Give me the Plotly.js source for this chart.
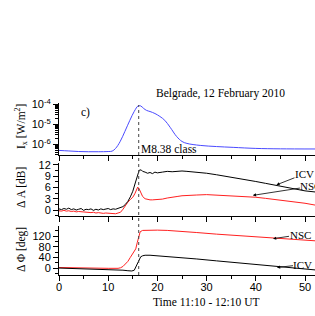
<!DOCTYPE html>
<html>
<head>
<meta charset="utf-8">
<script src="https://cdn.plot.ly/plotly-3.0.1.min.js"></script>
<style>html,body{margin:0;padding:0;background:#fff;}#chart{width:315px;height:316px;}</style>
</head>
<body>
<div id="chart"></div>
<script>
// ---- Data (time in minutes after 11:10 UT) ----
const tIx = [0,2,4,6,8,10,10.8,11.5,12.4,13.4,14.4,15.3,16.1,16.6,17.2,17.8,18.5,19.5,20.5,21.5,22.6,23.9,25,26,28.7,32,35.4,40,45,52.1];
const Ix  = [5.0e-7,4.7e-7,4.4e-7,4.3e-7,4.3e-7,4.4e-7,4.6e-7,6.3e-7,1.35e-6,4.5e-6,1.6e-5,4.5e-5,8.5e-5,8.4e-5,6.3e-5,5.0e-5,4.4e-5,3.5e-5,2.5e-5,1.6e-5,7.1e-6,2.5e-6,1.4e-6,1.12e-6,8.9e-7,7.8e-7,7.1e-7,6.3e-7,6.0e-7,5.9e-7];

const tAmpIcv = [0,0.5,1,1.5,2,2.5,3,3.5,4,4.5,5,5.5,6,6.5,7,7.5,8,8.5,9,9.5,10,10.5,11,11.5,12,12.5,13,13.5,14,14.5,15,15.5,16,16.3,16.7,17,17.5,18,18.5,19,19.5,20,21,22,23,24,25,26,28,30,32,34,36,38,40,42,44,46,48,50,52.1];
const ampIcv  = [0.3,0.1,0.4,0.2,0.5,0.1,0.3,0.0,0.2,0.4,-0.1,0.2,0.1,0.3,-0.1,0.2,0.0,0.3,0.1,0.2,0.4,0.1,0.3,0.2,0.4,0.6,0.9,1.5,2.3,3.5,5.0,7.2,9.6,10.6,10.7,10.3,10.1,9.8,10.0,9.7,10.1,9.9,10.1,10.3,10.2,10.4,10.4,10.3,10.1,9.8,9.4,9.0,8.6,8.2,7.6,7.1,6.6,6.0,5.5,5.1,4.8];

const tAmpNsc = [0,0.5,1,1.5,2,2.5,3,3.5,4,4.5,5,5.5,6,6.5,7,7.5,8,8.5,9,9.5,10,10.5,11,11.5,12,12.5,13,13.5,14,14.5,15,15.4,15.7,16,16.3,16.6,17,17.5,18,18.5,19,20,21,22,23,24,25,26,28,30,32,34,36,38,40,42,44,46,48,50,52.1];
const ampNsc  = [-0.2,-0.3,-0.1,-0.3,-0.2,-0.4,-0.3,-0.5,-0.4,-0.5,-0.6,-0.5,-0.6,-0.7,-0.6,-0.8,-0.7,-0.8,-0.9,-0.8,-0.9,-1.0,-0.9,-1.0,-0.8,-0.6,0.2,1.2,2.1,2.8,3.4,4.3,5.4,6.1,5.6,4.6,3.6,3.0,2.8,2.7,2.7,2.8,2.9,3.2,3.5,3.6,3.8,3.9,4.0,4.1,4.0,3.9,3.8,3.6,3.4,3.1,2.8,2.5,2.2,1.8,1.3];

const tPhIcv = [0,2,4,6,8,10,12,13,14,14.8,15.3,15.8,16.2,16.6,17,17.5,18.5,20,22,25,28,32,36,40,44,48,52.1];
const phIcv  = [0,-1,-2,-3,-4,-5,-7,-8,-10,-11,-8,10,30,42,46,48,48,46,44,40,34,27,20,12,5,-1,-7];

const tPhNsc = [0,2,4,6,8,10,12,12.5,13,13.5,14,14.5,15,15.3,15.6,15.9,16.2,16.5,17,18,20,22,25,28,32,36,40,44,48,52.1];
const phNsc  = [2,1,0,0,-1,-1,-1,1,6,14,25,40,55,64,72,95,122,136,141,142,142,141,138,133,127,122,117,112,107,102];

const flareTime = 16.2;
const titleText = "Belgrade, 12 February 2010";
const xTitleText = "Time 11:10 - 12:10 UT";

// ---- Styling ----
const tickFont = {family: "Liberation Sans, Arial, sans-serif", size: 11, color: "#000"};
const serif = {family: "Liberation Serif, Times New Roman, serif", size: 11.5, color: "#000"};
const H = 316;
const py = p => 1 - p / H;

function xax(anchor, labels) {
  return {
    domain: [0, 1], range: [0, 52.03], anchor: anchor,
    showline: true, linecolor: "#000", linewidth: 1, mirror: false,
    showgrid: false, zeroline: false,
    ticks: "outside", ticklen: 5, tickwidth: 1, tickcolor: "#000",
    tick0: 0, dtick: 10, ticklabelstandoff: -3,
    minor: {dtick: 5, ticks: "outside", ticklen: 3, tickcolor: "#000", showgrid: false},
    showticklabels: labels, tickfont: tickFont
  };
}
function yax(domain, extra) {
  return Object.assign({
    domain: domain, anchor: extra.anchor,
    showline: true, linecolor: "#000", linewidth: 1, mirror: false,
    showgrid: false, zeroline: false,
    ticks: "outside", ticklen: 5, tickwidth: 1, tickcolor: "#000",
    tickfont: tickFont
  }, extra);
}

const logMinor = [];
[1e-7, 1e-6, 1e-5].forEach(d => { for (let k = 2; k <= 9; k++) logMinor.push(k * d); });

const traces = [
  {x: tIx, y: Ix, xaxis: "x", yaxis: "y", mode: "lines", line: {color: "#4a4aff", width: 1, shape: "spline"}, name: "Ix"},
  {x: tAmpNsc, y: ampNsc, xaxis: "x2", yaxis: "y2", mode: "lines", line: {color: "#ff2020", width: 1}, name: "NSC amp"},
  {x: tAmpIcv, y: ampIcv, xaxis: "x2", yaxis: "y2", mode: "lines", line: {color: "#000", width: 1}, name: "ICV amp"},
  {x: tPhNsc, y: phNsc, xaxis: "x3", yaxis: "y3", mode: "lines", line: {color: "#ff2020", width: 1}, name: "NSC phase"},
  {x: tPhIcv, y: phIcv, xaxis: "x3", yaxis: "y3", mode: "lines", line: {color: "#000", width: 1}, name: "ICV phase"}
];

const labelFont = {family: "Liberation Serif, Times New Roman, serif", size: 11, color: "#000"};
const arrow = {showarrow: true, arrowhead: 2, arrowsize: 0.8, arrowwidth: 0.8, arrowcolor: "#000", font: labelFont, borderpad: 0};

const layout = {
  width: 315, height: 316,
  margin: {l: 59, r: 0, t: 0, b: 0},
  paper_bgcolor: "#fff", plot_bgcolor: "rgba(0,0,0,0)",
  showlegend: false,
  xaxis: xax("y", false),
  xaxis2: xax("y2", false),
  xaxis3: xax("y3", true),
  yaxis: yax([py(155), py(103)], {anchor: "x", type: "log", range: [-6.53, -3.93],
    tickvals: [1e-6, 1e-5, 1e-4], ticktext: ["10<sup>-6</sup>", "10<sup>-5</sup>", "10<sup>-4</sup>"],
    minor: {tickvals: logMinor, ticks: "outside", ticklen: 3, tickcolor: "#000", showgrid: false}}),
  yaxis2: yax([py(216), py(163)], {anchor: "x2", range: [-1.6, 12.53], tickvals: [0, 3, 6, 9, 12],
    minor: {dtick: 1.5, tick0: 0, ticks: "outside", ticklen: 3, tickcolor: "#000", showgrid: false}}),
  yaxis3: yax([py(275), py(226)], {anchor: "x3", range: [-26, 157.5], tickvals: [0, 40, 80, 120],
    minor: {dtick: 20, tick0: 0, ticks: "outside", ticklen: 3, tickcolor: "#000", showgrid: false}}),
  shapes: [
    {type: "line", xref: "x", yref: "paper", x0: flareTime, x1: flareTime, y0: py(275), y1: py(105),
     line: {color: "#444", width: 1, dash: "dot"}}
  ],
  annotations: [
    {text: titleText, xref: "paper", yref: "paper", x: (220 - 59) / 256, y: py(93), showarrow: false, font: serif, xanchor: "center", yanchor: "middle"},
    {text: "c)", xref: "paper", yref: "paper", x: (85 - 59) / 256, y: py(112), showarrow: false, font: serif, xanchor: "center", yanchor: "middle"},
    {text: "M8.38 class", xref: "paper", yref: "paper", x: (139 - 59) / 256, y: py(149), showarrow: false, font: serif, xanchor: "left", yanchor: "middle"},
    {text: xTitleText, xref: "paper", yref: "paper", x: (206 - 59) / 256, y: py(302), showarrow: false, font: serif, xanchor: "center", yanchor: "middle"},
    {text: "I<sub>x</sub> [W/m<sup>2</sup>]", xref: "paper", yref: "paper", x: (21 - 59) / 256, y: py(127), showarrow: false, font: serif, textangle: -90, xanchor: "center", yanchor: "middle"},
    {text: "Δ A [dB]", xref: "paper", yref: "paper", x: (21 - 59) / 256, y: py(188), showarrow: false, font: serif, textangle: -90, xanchor: "center", yanchor: "middle"},
    {text: "Δ Φ [deg]", xref: "paper", yref: "paper", x: (21 - 59) / 256, y: py(250), showarrow: false, font: serif, textangle: -90, xanchor: "center", yanchor: "middle"},
    Object.assign({text: "ICV", xref: "x2", yref: "y2", x: 44.2, y: 6.7, ax: 28, ay: -11}, arrow),
    Object.assign({text: "NSC", xref: "x2", yref: "y2", x: 39.4, y: 3.9, ax: 58, ay: -9}, arrow),
    Object.assign({text: "NSC", xref: "x3", yref: "y3", x: 43.5, y: 110, ax: 27, ay: -4}, arrow),
    Object.assign({text: "ICV", xref: "x3", yref: "y3", x: 44.3, y: 2, ax: 26, ay: -3}, arrow)
  ]
};

Plotly.newPlot("chart", traces, layout, {staticPlot: true, displayModeBar: false});
</script>
</body>
</html>
